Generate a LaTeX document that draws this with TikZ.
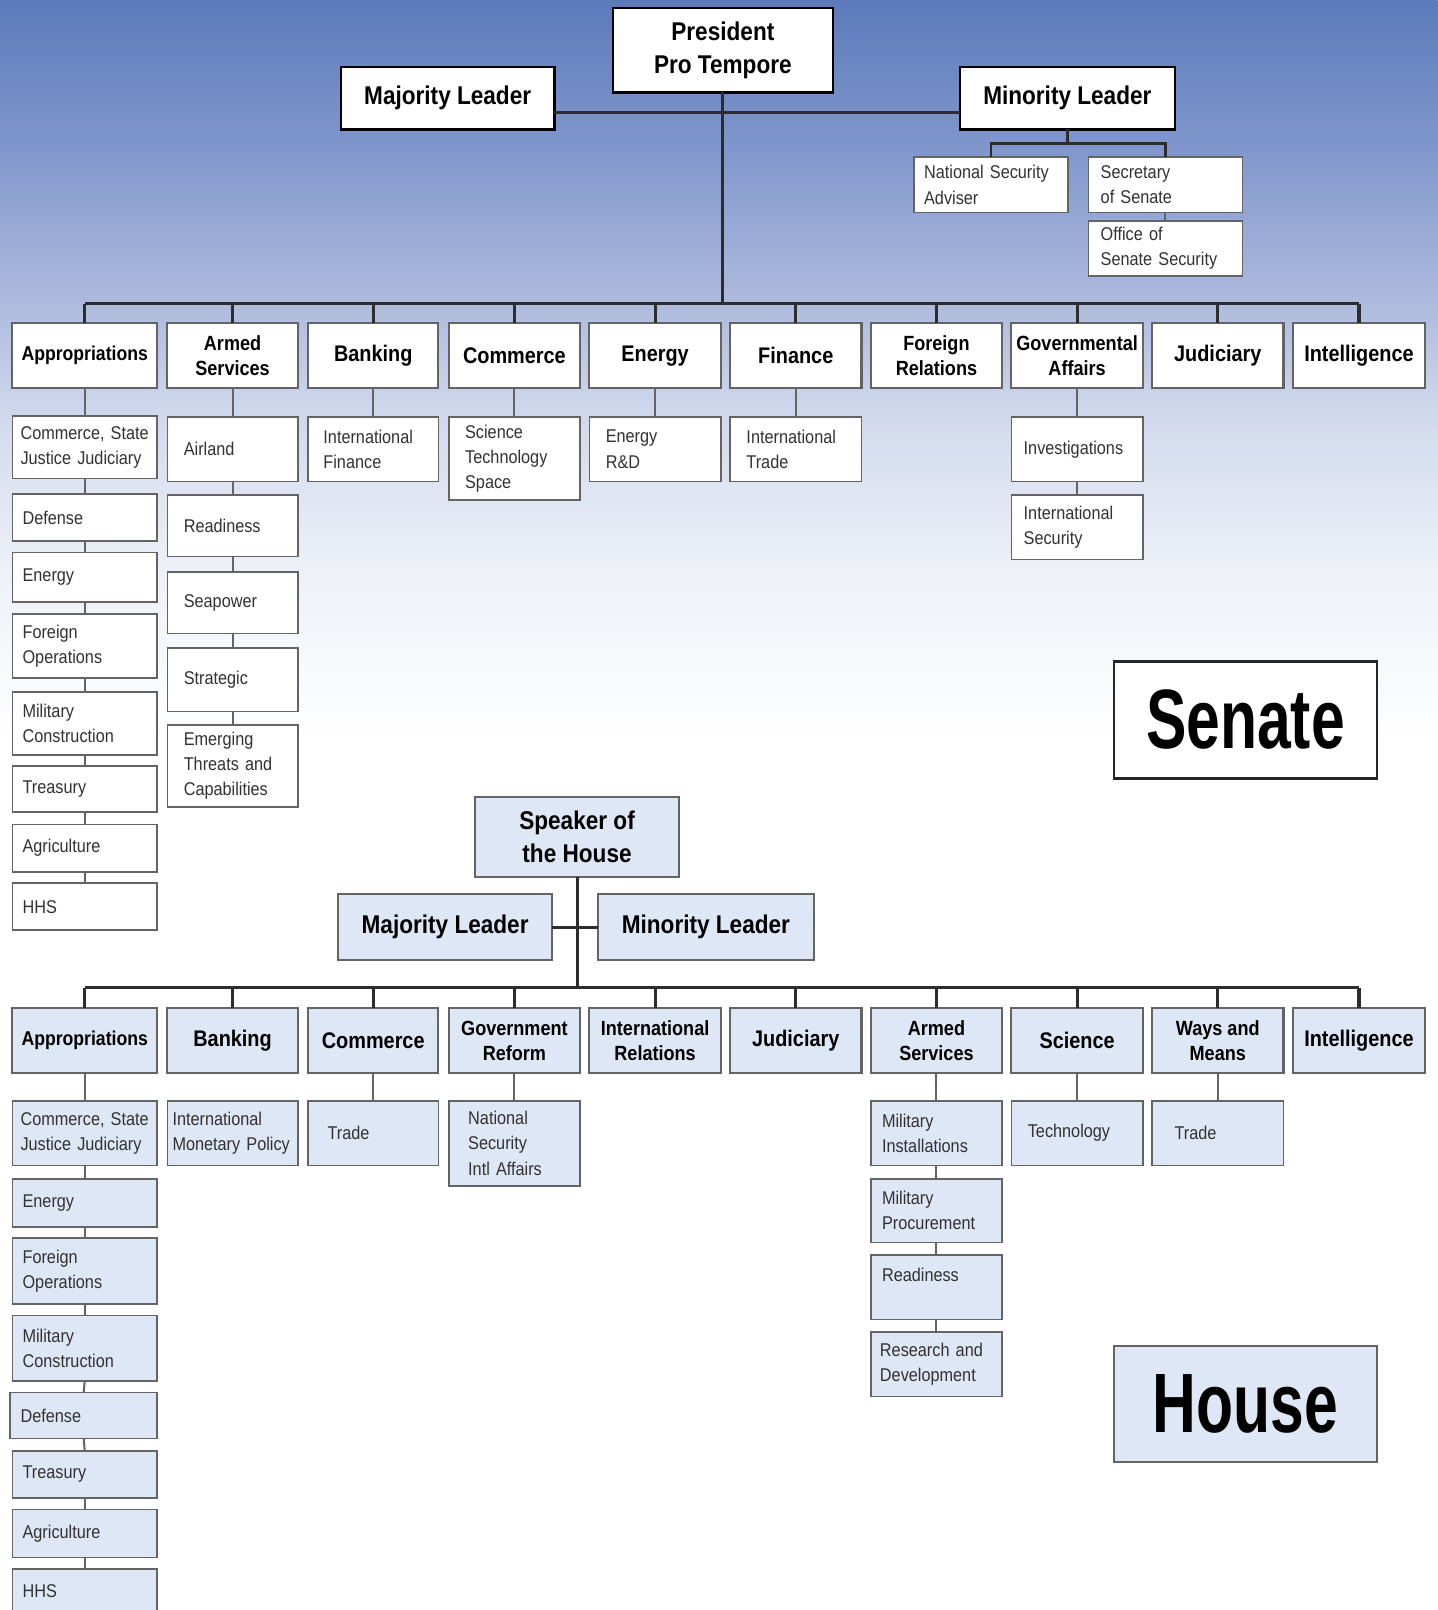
\documentclass[tikz,border=0pt]{standalone}
\usepackage{fontspec}
\setmainfont[FakeStretch=0.88]{Liberation Sans}
\newfontfamily\bigfont[FakeStretch=0.72]{Liberation Sans}
\definecolor{bgA}{RGB}{92,122,186}
\definecolor{bgB}{RGB}{130,152,205}
\definecolor{bgC}{RGB}{175,188,222}
\definecolor{bgD}{RGB}{212,220,238}
\definecolor{bgE}{RGB}{238,241,248}
\definecolor{hfill}{RGB}{221,231,245}
\definecolor{lineD}{RGB}{45,45,45}
\definecolor{lineS}{RGB}{100,100,100}
\definecolor{subtxt}{RGB}{50,50,50}
\newcommand\bx[7]{\node[#2, minimum width={#5pt-#3pt}, minimum height={#6pt-#4pt}] (#1) at ({(#3+#5)/2},{(#4+#6)/2}) {#7};}
\newcommand\sbx[8]{\pgfmathsetmacro\tw{#6-#4-2*#3}\node[#2, inner xsep=#3pt, text width=\tw pt, minimum width={#6pt-#4pt}, minimum height={#7pt-#5pt}] (#1) at ({(#4+#6)/2},{(#5+#7)/2}) {#8};}
\tikzset{
  base/.style={draw, rectangle, inner sep=0pt, outer sep=0pt},
  lead/.style={base, line width=2.2pt, draw=black, fill=white, align=center,
     font=\fontsize{25}{33}\selectfont\bfseries},
  hlead/.style={lead, fill=hfill, draw=lineS, line width=2pt},
  comm/.style={base, line width=2pt, draw=lineS, fill=white, align=center,
     font=\fontsize{22}{25}\selectfont\bfseries},
  commtwo/.style={comm, font=\fontsize{20}{24}\selectfont\bfseries},
  commsm/.style={comm, font=\fontsize{19.5}{24}\selectfont\bfseries},
  hcomm/.style={comm, fill=hfill},
  hcommtwo/.style={commtwo, fill=hfill},
  hcommsm/.style={commsm, fill=hfill},
  sub/.style={base, line width=1.6pt, draw=lineS, fill=white, align=left,
     text=subtxt, font=\fontsize{18}{24.5}\selectfont},
  hsub/.style={sub, fill=hfill},
  label/.style={base, line width=2.6pt, draw=black!85, fill=white,
     font=\bigfont\fontsize{82}{90}\selectfont\bfseries},
  bus/.style={draw=lineD, line width=3pt},
  conn/.style={draw=lineS, line width=2pt},
}
\begin{document}
\begin{tikzpicture}[x=1pt,y=-1pt]
\useasboundingbox (0,0) rectangle (1400,1568);
% background
\shade[top color=bgA, bottom color=bgB] (0,0) rectangle (1400,150);
\shade[top color=bgB, bottom color=bgC] (0,150) rectangle (1400,300);
\shade[top color=bgC, bottom color=bgD] (0,300) rectangle (1400,420);
\shade[top color=bgD, bottom color=bgE] (0,420) rectangle (1400,560);
\shade[top color=bgE, bottom color=white] (0,560) rectangle (1400,720);
\fill[white] (0,720) rectangle (1400,1568);

% ================= SENATE =================
\bx{P}{lead}{597}{8}{811}{90}{President\\Pro Tempore}
\bx{SMaj}{lead}{332}{65}{540}{126}{Majority Leader}
\bx{SMin}{lead}{935}{65}{1144}{126}{Minority Leader}
\sbx{NSA}{sub}{10}{890}{153}{1040}{207}{National Security\\Adviser}
\sbx{Sec}{sub}{12}{1060}{153}{1210}{207}{Secretary\\of Senate}
\sbx{Off}{sub}{12}{1060}{215}{1210}{269}{Office of\\Senate Security}

\coordinate (sbus) at (0,296);
\coordinate (sbr) at (0,140);
\coordinate (smid) at (0,110);

\bx{S1}{commsm}{12}{315}{153}{378}{Appropriations}
\bx{S2}{commtwo}{163}{315}{290}{378}{Armed\\Services}
\bx{S3}{comm}{300}{315}{427}{378}{Banking}
\bx{S4}{comm}{437}{315}{565}{378}{Commerce}
\bx{S5}{comm}{574}{315}{702}{378}{Energy}
\bx{S6}{comm}{711}{315}{839}{378}{Finance}
\bx{S7}{commtwo}{848}{315}{976}{378}{Foreign\\Relations}
\bx{S8}{commtwo}{985}{315}{1113}{378}{Governmental\\Affairs}
\bx{S9}{comm}{1122}{315}{1250}{378}{Judiciary}
\bx{S10}{comm}{1259}{315}{1388}{378}{Intelligence}

\sbx{SA1}{sub}{8}{12}{405}{153}{466}{Commerce, State\\Justice Judiciary}
\sbx{SA2}{sub}{10}{12}{481}{153}{527}{Defense}
\sbx{SA3}{sub}{10}{12}{538}{153}{586}{Energy}
\sbx{SA4}{sub}{10}{12}{598}{153}{660}{Foreign\\Operations}
\sbx{SA5}{sub}{10}{12}{674}{153}{735}{Military\\Construction}
\sbx{SA6}{sub}{10}{12}{746}{153}{791}{Treasury}
\sbx{SA7}{sub}{10}{12}{803}{153}{849}{Agriculture}
\sbx{SA8}{sub}{10}{12}{860}{153}{906}{HHS}

\sbx{SB1}{sub}{16}{163}{406}{290}{469}{Airland}
\sbx{SB2}{sub}{16}{163}{482}{290}{542}{Readiness}
\sbx{SB3}{sub}{16}{163}{557}{290}{617}{Seapower}
\sbx{SB4}{sub}{16}{163}{631}{290}{693}{Strategic}
\sbx{SB5}{sub}{16}{163}{706}{290}{786}{Emerging\\Threats and\\Capabilities}

\sbx{SC1}{sub}{15}{300}{406}{427}{469}{International\\Finance}
\sbx{SD1}{sub}{16}{437}{406}{565}{487}{Science\\Technology\\Space}
\sbx{SE1}{sub}{16}{574}{406}{702}{469}{Energy\\R\&D}
\sbx{SF1}{sub}{16}{711}{406}{839}{469}{International\\Trade}
\sbx{SG1}{sub}{12}{985}{406}{1113}{469}{Investigations}
\sbx{SG2}{sub}{12}{985}{482}{1113}{545}{International\\Security}

\bx{SenL}{label}{1085}{644}{1341}{758}{Senate}

% senate connectors
\draw[bus] (SMaj.east |- smid) -- (SMin.west |- smid);
\draw[bus] (P.south) -- (P.south |- sbus);
\draw[bus] (S1.north |- sbus) -- (S10.north |- sbus);
\foreach \i in {1,...,10} \draw[bus] (S\i.north) -- (S\i.north |- sbus);
\draw[bus, line width=2.6pt] (SMin.south) -- (SMin.south |- sbr);
\draw[bus, line width=2.6pt] (NSA.north) |- (Sec.north |- sbr) -- (Sec.north);
\draw[conn] (Sec.south) -- (Off.north);

\draw[conn] (S1.south) -- (SA1.north);
\foreach \a/\b in {1/2,2/3,3/4,4/5,5/6,6/7,7/8} \draw[conn] (SA\a.south) -- (SA\b.north);
\draw[conn] (S2.south) -- (SB1.north);
\foreach \a/\b in {1/2,2/3,3/4,4/5} \draw[conn] (SB\a.south) -- (SB\b.north);
\draw[conn] (S3.south) -- (SC1.north);
\draw[conn] (S4.south) -- (SD1.north);
\draw[conn] (S5.south) -- (SE1.north);
\draw[conn] (S6.south) -- (SF1.north);
\draw[conn] (S8.south) -- (SG1.north);
\draw[conn] (SG1.south) -- (SG2.north);

% ================= HOUSE =================
\bx{Spk}{hlead}{463}{776}{661}{854}{Speaker of\\the House}
\bx{HMaj}{hlead}{329}{871}{538}{935}{Majority Leader}
\bx{HMin}{hlead}{582}{871}{793}{935}{Minority Leader}
\coordinate (hbus) at (0,962);
\coordinate (hmid) at (0,903);

\bx{H1}{hcommsm}{12}{982}{153}{1045}{Appropriations}
\bx{H2}{hcomm}{163}{982}{290}{1045}{Banking}
\bx{H3}{hcomm}{300}{982}{427}{1045}{Commerce}
\bx{H4}{hcommtwo}{437}{982}{565}{1045}{Government\\Reform}
\bx{H5}{hcommtwo}{574}{982}{702}{1045}{International\\Relations}
\bx{H6}{hcomm}{711}{982}{839}{1045}{Judiciary}
\bx{H7}{hcommtwo}{848}{982}{976}{1045}{Armed\\Services}
\bx{H8}{hcomm}{985}{982}{1113}{1045}{Science}
\bx{H9}{hcommtwo}{1122}{982}{1250}{1045}{Ways and\\Means}
\bx{H10}{hcomm}{1259}{982}{1388}{1045}{Intelligence}

\sbx{HA1}{hsub}{8}{12}{1072}{153}{1135}{Commerce, State\\Justice Judiciary}
\sbx{HA2}{hsub}{10}{12}{1148}{153}{1195}{Energy}
\sbx{HA3}{hsub}{10}{12}{1206}{153}{1270}{Foreign\\Operations}
\sbx{HA4}{hsub}{10}{12}{1281}{153}{1345}{Military\\Construction}
\sbx{HA5}{hsub}{10}{10}{1356}{153}{1401}{Defense}
\sbx{HA6}{hsub}{10}{12}{1413}{153}{1459}{Treasury}
\sbx{HA7}{hsub}{10}{12}{1470}{153}{1517}{Agriculture}
\sbx{HA8}{hsub}{10}{12}{1528}{153}{1620}{HHS\\\mbox{}\\\mbox{}}

\sbx{HB1}{hsub}{5}{163}{1072}{290}{1135}{International\\Monetary Policy}
\sbx{HC1}{hsub}{19}{300}{1072}{427}{1135}{Trade}
\sbx{HD1}{hsub}{19}{437}{1072}{565}{1155}{National\\Security\\Intl Affairs}
\sbx{HG1}{hsub}{11}{848}{1072}{976}{1135}{Military\\Installations}
\sbx{HG2}{hsub}{11}{848}{1148}{976}{1210}{Military\\Procurement}
\sbx{HG3}{hsub}{11}{848}{1222}{976}{1285}{Readiness\\\mbox{}}
\sbx{HG4}{hsub}{9}{848}{1297}{976}{1360}{Research and\\Development}
\sbx{HH1}{hsub}{16}{985}{1072}{1113}{1135}{Technology}
\sbx{HI1}{hsub}{22}{1122}{1072}{1250}{1135}{Trade}

\bx{HouL}{label, fill=hfill, draw=lineS}{1085}{1311}{1341}{1424}{House}

% house connectors
\draw[bus] (Spk.south) -- (Spk.south |- hbus);
\draw[bus] (HMaj.east |- hmid) -- (HMin.west |- hmid);
\draw[bus] (H1.north |- hbus) -- (H10.north |- hbus);
\foreach \i in {1,...,10} \draw[bus] (H\i.north) -- (H\i.north |- hbus);

\draw[conn] (H1.south) -- (HA1.north);
\foreach \a/\b in {1/2,2/3,3/4,4/5,5/6,6/7,7/8} \draw[conn] (HA\a.south) -- (HA\b.north);
\draw[conn] (H3.south) -- (HC1.north);
\draw[conn] (H4.south) -- (HD1.north);
\draw[conn] (H7.south) -- (HG1.north);
\foreach \a/\b in {1/2,2/3,3/4} \draw[conn] (HG\a.south) -- (HG\b.north);
\draw[conn] (H8.south) -- (HH1.north);
\draw[conn] (H9.south) -- (HI1.north);
\end{tikzpicture}
\end{document}
